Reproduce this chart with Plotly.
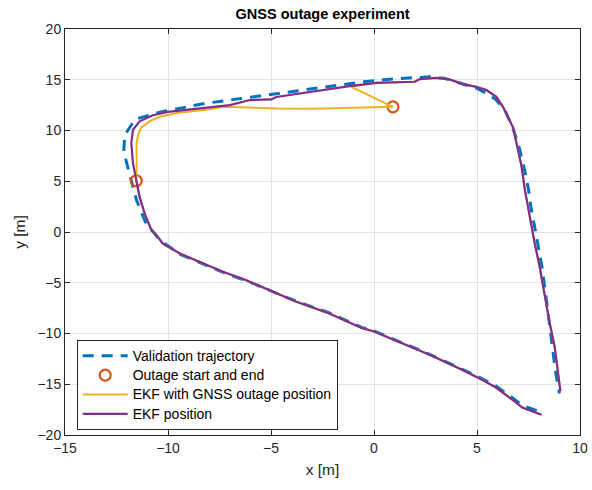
import plotly.graph_objects as go

# Validation trajectory (reference)
val_x = [7.9, 7.2, 6.7, 5.9, 5.0, 4.3, 2.7, 1.05, 0.0, -0.6, -2.2, -3.8, -5.0, -6.2, -7.3,
         -8.5, -9.4, -10.4, -11.1, -11.53, -11.9, -12.15, -12.1, -11.6, -10.4, -9.27, -8.22,
         -7.0, -5.9, -4.0, -2.2, -0.5, 0.76, 2.0, 2.7, 3.4, 4.3, 5.0, 5.6, 5.94, 6.4, 6.75,
         7.05, 7.3, 7.5, 7.62, 7.8, 7.95, 8.15, 8.35, 8.5, 8.65, 8.8, 9.0]
val_y = [-17.6, -17.1, -16.3, -15.15, -14.2, -13.55, -12.05, -10.65, -9.75, -9.4, -7.95, -6.8,
         -5.8, -4.8, -4.0, -2.95, -2.2, -0.8, 1.0, 3.15, 5.94, 7.9, 9.55, 11.1, 11.8, 12.27,
         12.67, 13.0, 13.3, 13.8, 14.35, 14.8, 15.06, 15.2, 15.29, 15.15, 14.6, 14.15, 13.5,
         13.0, 11.8, 10.2, 8.3, 6.2, 4.2, 2.4, 0.5, -1.1, -3.4, -6.4, -9.0, -11.3, -13.6, -15.9]

# EKF position
ekf_x = [8.13, 7.6, 7.2, 6.7, 5.9, 5.0, 4.3, 2.7, 1.05, 0.0, -0.6, -2.2, -3.8, -5.0, -6.2,
         -7.3, -8.5, -9.4, -10.25, -10.6, -10.8, -11.13, -11.38, -11.54, -11.7, -11.78, -11.7,
         -11.38, -10.73, -10.0, -9.1, -8.14, -7.0, -6.03, -4.98, -4.74, -3.6, -2.23, -1.18,
         0.12, 1.98, 2.22, 3.03, 3.67, 4.32, 4.97, 5.46, 5.94, 6.26, 6.75, 6.95, 7.16, 7.32,
         7.5, 7.65, 7.8, 8.04, 8.29, 8.53, 8.77, 8.93, 9.05]
ekf_y = [-18.0, -17.6, -17.3, -16.5, -15.3, -14.3, -13.6, -12.1, -10.7, -9.8, -9.45, -8.0,
         -6.85, -5.8, -4.75, -3.95, -2.9, -2.15, -1.15, -0.2, 0.15, 1.8, 3.46, 5.05, 6.77,
         8.75, 10.07, 10.9, 11.5, 11.84, 12.05, 12.2, 12.5, 13.0, 13.06, 13.3, 13.65, 14.04,
         14.37, 14.7, 14.8, 15.06, 15.19, 15.03, 14.57, 14.3, 13.98, 13.32, 12.33, 10.3, 8.5,
         6.5, 4.2, 2.2, 0.5, -1.1, -3.4, -6.4, -9.0, -11.3, -13.6, -15.7]

# EKF with GNSS outage: drifting segment during outage, then re-fix point
out_x = [-11.54, -11.52, -11.53, -11.45, -11.3, -10.9, -10.4, -9.5, -8.14, -7.33, -6.5,
         -5.55, -4.6, -3.0, -1.5, 0.0, 0.92, -1.1]
out_y = [5.05, 6.5, 8.7, 9.6, 10.3, 10.9, 11.35, 11.75, 12.05, 12.35, 12.3, 12.23, 12.17,
         12.15, 12.2, 12.27, 12.33, 14.3]

# Outage start and end
mark_x = [-11.54, 0.92]
mark_y = [5.05, 12.33]

legend_names = ["Validation trajectory", "Outage start and end",
                "EKF with GNSS outage position", "EKF position"]

k1 = ekf_x.index(-11.54)
k2 = ekf_x.index(0.12)
ekfo_x = ekf_x[:k1] + out_x + ekf_x[k2:]
ekfo_y = ekf_y[:k1] + out_y + ekf_y[k2:]

BLUE = "#0072BD"
ORANGE = "#D95319"
YELLOW = "#EDB120"
PURPLE = "#7E2F8E"
AX = "#262626"
FONT = "Liberation Sans, Arial, Helvetica, sans-serif"


def lg(name):
    return '<span style="font-size:14px">' + name + "</span>"


fig = go.Figure()
fig.add_trace(go.Scatter(x=val_x, y=val_y, mode="lines", name=lg(legend_names[0]),
                         line=dict(color=BLUE, width=3, dash="11px,8px")))
fig.add_trace(go.Scatter(x=mark_x, y=mark_y, mode="markers", name=lg(legend_names[1]),
                         marker=dict(symbol="circle-open", size=11, color=ORANGE,
                                     line=dict(width=2.2, color=ORANGE))))
fig.add_trace(go.Scatter(x=ekfo_x, y=ekfo_y, mode="lines", name=lg(legend_names[2]),
                         line=dict(color=YELLOW, width=2)))
fig.add_trace(go.Scatter(x=ekf_x, y=ekf_y, mode="lines", name=lg(legend_names[3]),
                         line=dict(color=PURPLE, width=2.2)))

axis_common = dict(showgrid=True, gridcolor="#e3e3e3", gridwidth=1, zeroline=False,
                   showline=True, linecolor=AX, linewidth=1, mirror="ticks",
                   ticks="inside", ticklen=5, tickcolor=AX, tickwidth=1, automargin=False,
                   tickfont=dict(family=FONT, size=14, color=AX))

fig.update_layout(
    width=592, height=490, autosize=False,
    margin=dict(l=65, r=12, t=29, b=55),
    paper_bgcolor="white", plot_bgcolor="white",
    font=dict(family=FONT, color=AX),
    title=dict(text="<b>GNSS outage experiment</b>", x=0.5449, xanchor="center",
               y=1 - 14 / 490, yanchor="middle", yref="container", automargin=False,
               font=dict(family=FONT, size=14.5, color="black")),
    xaxis=dict(range=[-15, 10], dtick=5, tick0=-15,
               title=dict(text="x [m]", standoff=9, font=dict(family=FONT, size=15.5, color=AX)),
               **axis_common),
    yaxis=dict(range=[-20, 20], dtick=5, tick0=-20,
               title=dict(text="y [m]", standoff=8, font=dict(family=FONT, size=15.5, color=AX)),
               **axis_common),
    legend=dict(x=0.0227, y=0.234, xanchor="left", yanchor="top",
                bgcolor="white", bordercolor=AX, borderwidth=1,
                font=dict(family=FONT, size=12.6, color="black"),
                itemwidth=45, tracegroupgap=0),
    showlegend=True,
)

fig.write_html("out.html")
